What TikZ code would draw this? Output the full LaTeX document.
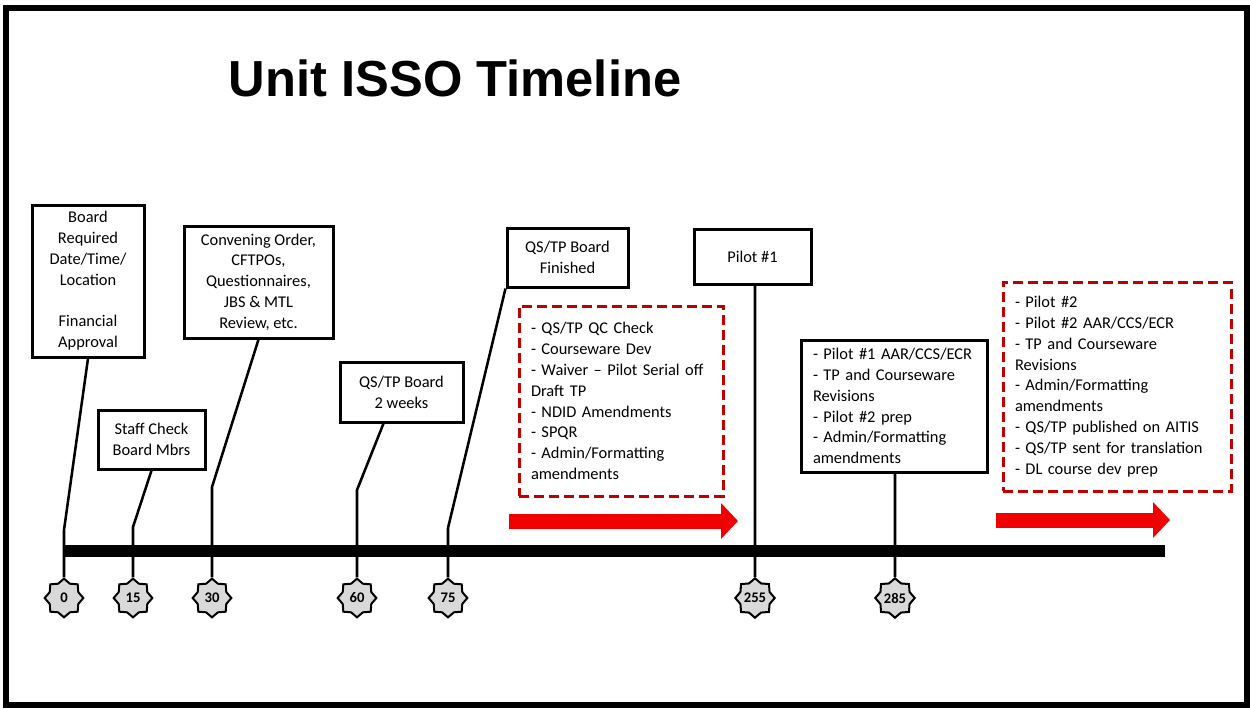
\documentclass[tikz,border=0pt]{standalone}
\usepackage{fontspec}
\setmainfont{Carlito}
\newfontfamily\titlefont{Liberation Sans}
\usetikzlibrary{shapes.geometric,arrows.meta}
\definecolor{dashred}{RGB}{192,0,0}
\definecolor{arrowred}{RGB}{240,0,0}
\definecolor{stargray}{RGB}{217,217,217}
\begin{document}
\begin{tikzpicture}[x=0.75pt,y=-0.75pt,
  box/.style={draw, line width=2.25pt, inner sep=0pt, align=center, font=\fontsize{12.3}{15.6}\selectfont},
  listbox/.style={draw, line width=2.25pt, inner xsep=9pt, inner ysep=0pt, align=left, font=\fontsize{12.3}{15.6}\selectfont},
  redbox/.style={listbox, draw=dashred, dash pattern=on 7.5pt off 3.75pt},
  conn/.style={line width=1.9pt},
  daystar/.style={star, star points=8, star point ratio=1.25, minimum size=29pt, inner sep=0pt, fill=stargray, draw, line width=1.5pt, font=\bfseries\fontsize{11}{13}\selectfont},
  push/.style={arrowred, line width=11.25pt, -{Triangle[length=12.75pt,width=26.25pt]}}]
\useasboundingbox (0,0) rectangle (1250,708);
\draw[line width=4.5pt] (6,8) rectangle (1247,705);
\node[font=\titlefont\bfseries\fontsize{38}{44}\selectfont] (title) at (455,78){Unit ISSO Timeline};

\node[box, minimum width=84pt, minimum height=114pt] (brd) at (88,281){Board\\Required\\Date/Time/\\Location\\[15.6pt]Financial\\Approval};
\node[box, minimum width=80.25pt, minimum height=44.25pt] (stf) at (151.5,439.5){Staff Check\\Board Mbrs};
\node[box, minimum width=111.75pt, minimum height=84pt] (cvn) at (258.5,282){Convening Order,\\CFTPOs,\\Questionnaires,\\JBS \& MTL\\Review, etc.};
\node[box, minimum width=92.25pt, minimum height=45pt] (qsb) at (401.5,392){QS/TP Board\\2 weeks};
\node[box, minimum width=90.75pt, minimum height=44.25pt] (qsf) at (567.5,257.5){QS/TP Board\\Finished};
\node[box, minimum width=87.75pt, minimum height=41.25pt] (pl1) at (752.5,256.5){Pilot \#1};
\node[listbox, text width=121.5pt, minimum height=99pt] (rev) at (894,406){- Pilot \#1 AAR/CCS/ECR\\- TP and Courseware\\Revisions\\- Pilot \#2 prep\\- Admin/Formatting\\amendments};
\node[redbox, text width=135pt, minimum height=142.5pt] (qc) at (621,401){- QS/TP QC Check\\- Courseware Dev\\- Waiver -- Pilot Serial off\\Draft TP\\- NDID Amendments\\- SPQR\\- Admin/Formatting\\amendments};
\node[redbox, text width=153pt, minimum height=156.75pt] (pub) at (1117,386.5){- Pilot \#2\\- Pilot \#2 AAR/CCS/ECR\\- TP and Courseware\\Revisions\\- Admin/Formatting\\amendments\\- QS/TP published on AITIS\\- QS/TP sent for translation\\- DL course dev prep};

\node[daystar] (day0) at (64,598){0};
\node[daystar] (day15) at (133,598){15};
\node[daystar] (day30) at (212,598){30};
\node[daystar] (day60) at (357,598){60};
\node[daystar] (day75) at (448,598){75};
\node[daystar] (day255) at (755,598){255};
\node[daystar] (day285) at (895,598){285};

\coordinate (bnd0) at (64,530);
\coordinate (bnd15) at (133,527);
\coordinate (bnd30) at (212,487);
\coordinate (bnd60) at (357,490);
\coordinate (bnd75) at (448,528);
\draw[conn](brd.south) -- (bnd0) -- (day0.north);
\draw[conn](stf.south) -- (bnd15) -- (day15.north);
\draw[conn](cvn.south) -- (bnd30) -- (day30.north);
\draw[conn]([xshift=-13.5pt]qsb.south) -- (bnd60) -- (day60.north);
\draw[conn](qsf.south west) -- (bnd75) -- (day75.north);
\draw[conn](pl1.south -| day255) -- (day255.north);
\draw[conn](rev.south -| day285) -- (day285.north);

\coordinate (barl) at (63,551);
\coordinate (barr) at (1165,551);
\draw[line width=9pt](barl) -- (barr);

\coordinate (qcl) at (509,521);
\coordinate (qcr) at (738,521);
\draw[push](qcl) -- (qcr);
\coordinate (publ) at (996,520);
\coordinate (pubr) at (1170,520);
\draw[push](publ) -- (pubr);
\end{tikzpicture}
\end{document}
